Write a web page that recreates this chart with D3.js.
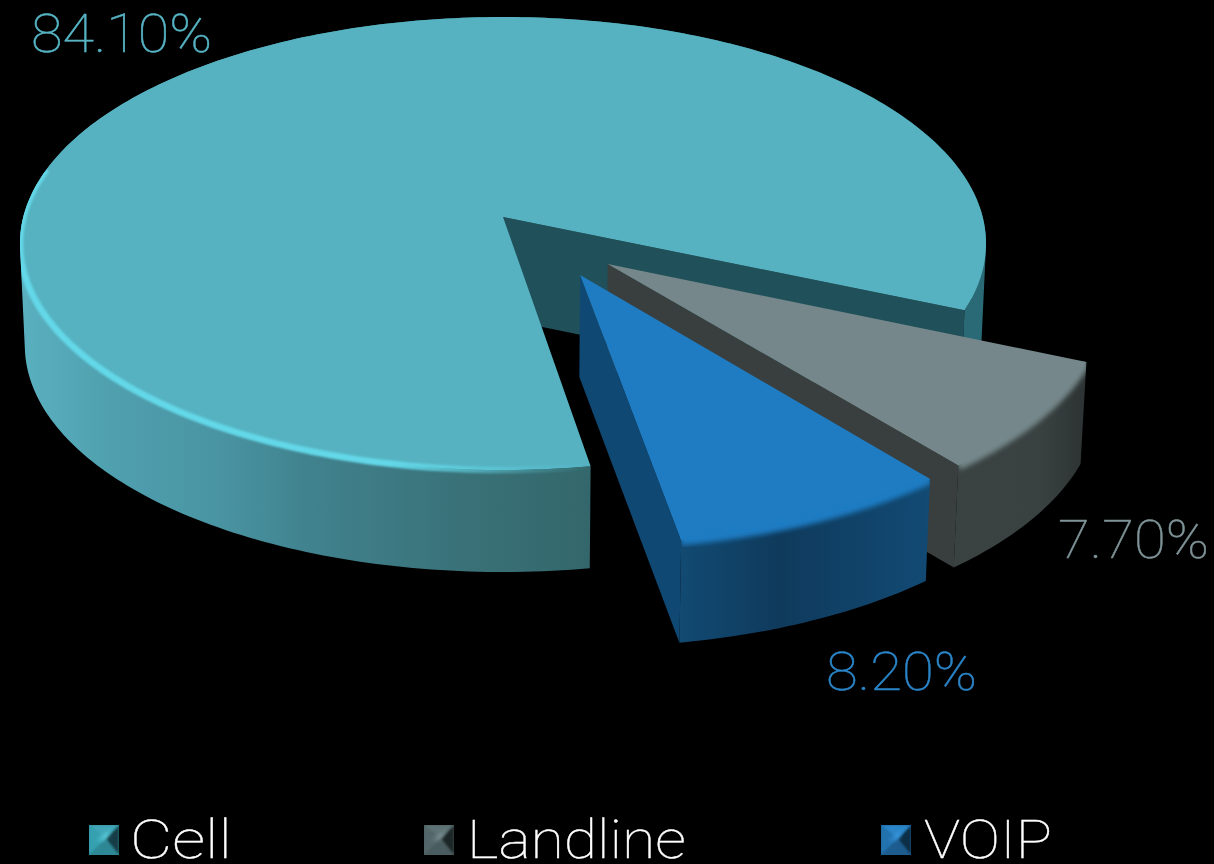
<!DOCTYPE html>
<html><head><meta charset="utf-8">
<script src="https://cdn.jsdelivr.net/npm/d3@7"></script>
<style>html,body{margin:0;padding:0;background:#000;overflow:hidden}svg{display:block}
text{font-family:Roboto,Lato,sans-serif;font-weight:100}</style></head>
<body><svg id="c" width="1214" height="864"></svg>
<script>
const categories = ["Cell", "Landline", "VOIP"];
const shares = [84.1, 7.7, 8.2];

const W = 1214, H = 864;
const deg = Math.PI / 180;
const CX = 503, CY = 217, R = 479.7, RY = 223.4, K = 0.117, DEPTH = 102;
const explode = [[0, 0], [0.213, -0.205], [0.156, -0.252]];
const topFill = ["#56b2c1", "#75878a", "#1f7cc2"];
const wallFill = ["#20515a", "#393f3f", "#0f4873"];
const labelFill = ["#56b4c4", "#7f9498", "#2a85c8"];
const labelBox = [[31, 52, 181], [1058, 558, 151], [826, 690, 151]];
const legendBox = [[89, 130, 102], [424, 467, 219], [881, 924, 128]];
const bevel = [
  ["#3fa6b8", "#36a0b0", "#123c46", "#2e8794"],
  ["#5d7275", "#526669", "#1c2628", "#4a5c5e"],
  ["#2a86c8", "#2272ae", "#0e2d46", "#1c5c8e"]
];
const shine = ["#66d8e6", "#87999c", "#3f9fe6"];

const svg = d3.select("#c");
svg.append("rect").attr("width", W).attr("height", H).attr("fill", "#000");
const defs = svg.append("defs");
defs.append("filter").attr("id", "soft").attr("x", "-10%").attr("y", "-10%").attr("width", "120%").attr("height", "120%")
  .append("feGaussianBlur").attr("stdDeviation", 2.6);
defs.append("filter").attr("id", "soft1").attr("x", "-20%").attr("y", "-20%").attr("width", "140%").attr("height", "140%")
  .append("feGaussianBlur").attr("stdDeviation", 1);
defs.append("filter").attr("id", "soft2").attr("x", "-50%").attr("y", "-50%").attr("width", "200%").attr("height", "200%")
  .append("feGaussianBlur").attr("stdDeviation", 2);

function hGrad(id, x1, x2, stops) {
  const g = defs.append("linearGradient").attr("id", id).attr("gradientUnits", "userSpaceOnUse")
    .attr("x1", x1).attr("x2", x2).attr("y1", 0).attr("y2", 0);
  stops.forEach(s => g.append("stop").attr("offset", s[0]).attr("stop-color", s[1]).attr("stop-opacity", s[2] === undefined ? 1 : s[2]));
}
hGrad("rim0", 20, 985, [[0, "#5ab0bf"], [0.1, "#4f9fae"], [0.2, "#4a95a4"], [0.3, "#40828e"], [0.45, "#3a7279"], [0.59, "#33676b"], [0.62, "#2a6a76"], [1, "#2a6a76"]]);
hGrad("rim1", 930, 1085, [[0, "#3a4342"], [0.7, "#3a4241"], [1, "#2d3333"]]);
hGrad("rim2", 680, 930, [[0, "#124a72"], [0.4, "#0f3a5c"], [1, "#124a74"]]);
hGrad("glow0", 20, 590, [[0, "#63d8e8"], [0.65, "#63d8e8"], [0.9, "#63d8e8", 0.25], [1, "#63d8e8", 0]]);
hGrad("glow1", 930, 1085, [[0, "#75878a"], [1, "#75878a"]]);
hGrad("glow2", 680, 930, [[0, "#1f7cc2"], [1, "#1f7cc2"]]);

function project(u, v) {
  const w = 1 + K * v;
  return [CX + R * u / w, CY - RY * v / w];
}
const drop = p => [CX + (p[0] - CX) * 0.99, p[1] + DEPTH];
const line = d3.line();

const pieLayout = d3.pie().sort(null).value(d => d)
  .startAngle(170.7 * deg).endAngle(530.7 * deg);
const arcs = pieLayout(shares);

arcs.forEach((a, i) => {
  const [ox, oy] = explode[i];
  const onDisc = t => project(ox + Math.sin(t), oy + Math.cos(t));
  const n = Math.ceil((a.endAngle - a.startAngle) / deg);
  const ts = d3.range(n + 1).map(k => a.startAngle + (a.endAngle - a.startAngle) * k / n);
  const edge = ts.map(onDisc);
  const apex = project(ox, oy);
  const g = svg.append("g").attr("class", "slice").datum(a);
  const topPath = line([apex, ...edge]) + "Z";
  // the side wall is a union of small quads with one winding, so no notch at the extremes
  const quads = d3.range(edge.length - 1).map(k => {
    const q = [edge[k], edge[k + 1], drop(edge[k + 1]), drop(edge[k])];
    if (d3.polygonArea(q) < 0) q.reverse();
    return line(q) + "Z";
  }).join("");

  defs.append("clipPath").attr("id", "clip" + i).selectAll("path").data([topPath, quads]).join("path").attr("d", d => d);

  const w1 = edge[edge.length - 1];
  g.append("path").attr("d", line([apex, w1, drop(w1), drop(apex)]) + "Z").attr("fill", wallFill[i]);
  g.append("path").attr("d", quads).attr("fill", `url(#rim${i})`);
  g.append("path").attr("d", topPath).attr("fill", topFill[i]);
  const glowEdge = i === 0 ? ts.filter(t => t <= 283 * deg).map(onDisc) : edge;
  g.append("g").attr("clip-path", `url(#clip${i})`)
    .append("path").attr("d", line(glowEdge)).attr("fill", "none")
    .attr("stroke", `url(#glow${i})`).attr("stroke-width", i === 0 ? 6.5 : 9).attr("filter", i === 0 ? "url(#soft1)" : "url(#soft)");
});

// data labels
svg.selectAll("text.label").data(shares).join("text").attr("class", "label")
  .attr("x", (d, i) => labelBox[i][0]).attr("y", (d, i) => labelBox[i][1])
  .attr("font-size", 53).attr("fill", (d, i) => labelFill[i])
  .attr("stroke", (d, i) => labelFill[i]).attr("stroke-width", 0.5)
  .attr("textLength", (d, i) => labelBox[i][2]).attr("lengthAdjust", "spacingAndGlyphs")
  .text(d => d3.format(".2f")(d) + "%");

// legend
const lg = svg.selectAll("g.legend").data(categories).join("g").attr("class", "legend");
lg.each(function (name, i) {
  const x0 = legendBox[i][0], y0 = 825, s = 30;
  const c = [x0 + s * 0.56, y0 + s * 0.46];
  const corners = [[x0, y0], [x0 + s, y0], [x0 + s, y0 + s], [x0, y0 + s]];
  const order = [[0, 1], [3, 0], [1, 2], [2, 3]];
  const g = d3.select(this);
  defs.append("clipPath").attr("id", "sw" + i).append("path").attr("d", line(corners) + "Z");
  const inner = g.append("g").attr("clip-path", `url(#sw${i})`);
  inner.append("rect").attr("x", x0).attr("y", y0).attr("width", s).attr("height", s).attr("fill", bevel[i][3]);
  const tri = inner.append("g").attr("filter", "url(#soft1)");
  order.forEach((o, k) => tri.append("path")
    .attr("d", line([corners[o[0]], corners[o[1]], c]) + "Z").attr("fill", bevel[i][k]));
  inner.append("path").attr("d", line([[c[0] - 9, c[1] + 2], [c[0] + 5, c[1] - 9], c]) + "Z")
    .attr("fill", shine[i]).attr("filter", "url(#soft2)");
  inner.append("path").attr("d", line([corners[3], corners[2]])).attr("stroke", shine[i])
    .attr("stroke-width", 3).attr("fill", "none").attr("filter", "url(#soft1)");
  g.append("text").attr("x", legendBox[i][1]).attr("y", 858).attr("font-size", 53)
    .attr("fill", "#fff").attr("stroke", "#fff").attr("stroke-width", 0.4)
    .attr("textLength", legendBox[i][2]).attr("lengthAdjust", "spacingAndGlyphs").text(name);
});
</script></body></html>
